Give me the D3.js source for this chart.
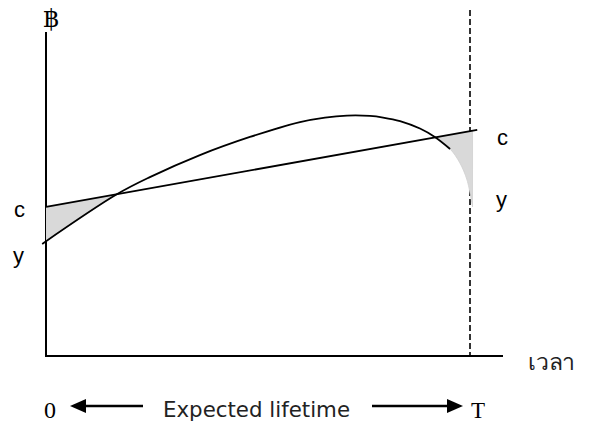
<!DOCTYPE html>
<html>
<head>
<meta charset="utf-8">
<script src="https://cdn.jsdelivr.net/npm/d3@7"></script>
<style>
  html, body { margin: 0; padding: 0; background: #fff; }
  svg { display: block; }
</style>
</head>
<body>
<svg id="chart" width="590" height="425"></svg>
<script>
// ---- data ----
const timeDomain = [0, 100];          // 0 .. T (expected lifetime)
const valueDomain = [0, 100];
const curveTimes  = [-0.9, 16.7, 24.5, 36.3, 48.1, 59.9, 65.8, 71.0, 76.4, 79.5, 83.5, 88.2, 91.7, 95.3, 97.6, 99.3, 100.6];
const curveValues = [34.6, 49.9, 55.2, 62.0, 67.6, 72.2, 73.6, 74.2, 74.1, 73.6, 72.5, 70.2, 67.6, 63.9, 59.6, 54.3, 46.0];
const cLineTimes  = [0, 101.7];
const cLineValues = [46.0, 69.8];
const blackCurveMaxTime = 95.3;
const leftLabels  = ["c", "y"];
const rightLabels = ["c", "y"];
const axisLabelY = "\u0E3F";
const axisLabelX = "เวลา";
const bottomTexts = ["0", "Expected lifetime", "T"];

// ---- scales ----
const svg = d3.select("#chart");
const x = d3.scaleLinear().domain(timeDomain).range([46, 470]);
const y = d3.scaleLinear().domain(valueDomain).range([356, 32]);

const cAt = t => cLineValues[0] + (t - cLineTimes[0]) * (cLineValues[1] - cLineValues[0]) / (cLineTimes[1] - cLineTimes[0]);
const curveData = curveTimes.map((t, i) => ({ t, v: curveValues[i] }));
const smooth = d3.curveCatmullRom.alpha(0.5);

// ---- axes ----
svg.append("line").attr("x1", x(0)).attr("x2", x(0)).attr("y1", y(100)).attr("y2", y(0))
  .attr("stroke", "#000").attr("stroke-width", 2);
svg.append("line").attr("x1", x(0) - 1).attr("x2", 503).attr("y1", y(0)).attr("y2", y(0))
  .attr("stroke", "#000").attr("stroke-width", 2);

// dashed T line
svg.append("line").attr("x1", x(100)).attr("x2", x(100)).attr("y1", 10).attr("y2", y(0))
  .attr("stroke", "#000").attr("stroke-width", 1.6).attr("stroke-dasharray", "6,3");

// ---- shading between curve and c line where curve is below c ----
const tEnd = curveTimes[curveTimes.length - 1];
svg.append("clipPath").attr("id", "belowC").append("path")
  .attr("d", d3.line()([
    [x(0), y(cAt(0))], [x(tEnd) + 1, y(cAt(tEnd))], [x(tEnd) + 1, y(0)], [x(0), y(0)]
  ]) + "Z");

const area = d3.area()
  .x(d => x(d.t))
  .y0(d => y(d.v))
  .y1(d => y(cAt(d.t)))
  .curve(smooth);
svg.append("path").datum(curveData)
  .attr("d", area)
  .attr("fill", "#d9d9d9")
  .attr("stroke", "#d0d0d0").attr("stroke-width", 0.8)
  .attr("clip-path", "url(#belowC)");

// ---- c line ----
svg.append("line")
  .attr("x1", x(cLineTimes[0])).attr("y1", y(cLineValues[0]))
  .attr("x2", x(cLineTimes[1])).attr("y2", y(cLineValues[1]))
  .attr("stroke", "#000").attr("stroke-width", 1.8);

// ---- y curve ----
const line = d3.line().x(d => x(d.t)).y(d => y(d.v)).curve(smooth);
svg.append("path").datum(curveData.filter(d => d.t <= blackCurveMaxTime))
  .attr("d", line).attr("fill", "none").attr("stroke", "#000").attr("stroke-width", 1.8);

// ---- labels ----
const sans = "Arial, 'Liberation Sans', sans-serif";
const serif = "'Times New Roman', 'Liberation Serif', serif";
svg.append("text").attr("x", 14).attr("y", 217).text(leftLabels[0])
  .attr("font-family", sans).attr("font-size", 22);
svg.append("text").attr("x", 13).attr("y", 263).text(leftLabels[1])
  .attr("font-family", sans).attr("font-size", 22);
svg.append("text").attr("x", 497).attr("y", 145).text(rightLabels[0])
  .attr("font-family", sans).attr("font-size", 22);
svg.append("text").attr("x", 496).attr("y", 207).text(rightLabels[1])
  .attr("font-family", sans).attr("font-size", 22);

svg.append("text").attr("x", 43).attr("y", 27).text(axisLabelY)
  .attr("font-family", "'DejaVu Serif', serif").attr("font-size", 25);
svg.append("text").attr("x", 528).attr("y", 370).text(axisLabelX)
  .attr("font-family", "'Liberation Serif', serif").attr("font-size", 22).attr("fill", "#222")
  .attr("textLength", 47).attr("lengthAdjust", "spacingAndGlyphs");

// ---- bottom arrows ----
const arrowY = 406;
svg.append("text").attr("x", 44).attr("y", 418).text(bottomTexts[0])
  .attr("font-family", serif).attr("font-size", 24);
svg.append("text").attr("x", 163).attr("y", 417).text(bottomTexts[1])
  .attr("font-family", "'DejaVu Sans', sans-serif").attr("font-size", 21).attr("fill", "#222")
  .attr("textLength", 187).attr("lengthAdjust", "spacingAndGlyphs");
svg.append("text").attr("x", 471).attr("y", 418).text(bottomTexts[2])
  .attr("font-family", serif).attr("font-size", 23);

function arrow(x0, x1) {
  const dir = Math.sign(x1 - x0);
  const head = 16, hw = 7;
  svg.append("line").attr("x1", x0).attr("x2", x1 - dir * head + dir).attr("y1", arrowY).attr("y2", arrowY)
    .attr("stroke", "#000").attr("stroke-width", 2.4);
  svg.append("path").attr("d", d3.line()([[x1, arrowY], [x1 - dir * head, arrowY - hw], [x1 - dir * head, arrowY + hw]]) + "Z")
    .attr("fill", "#000");
}
arrow(143, 70);
arrow(372, 463);
</script>
</body>
</html>
